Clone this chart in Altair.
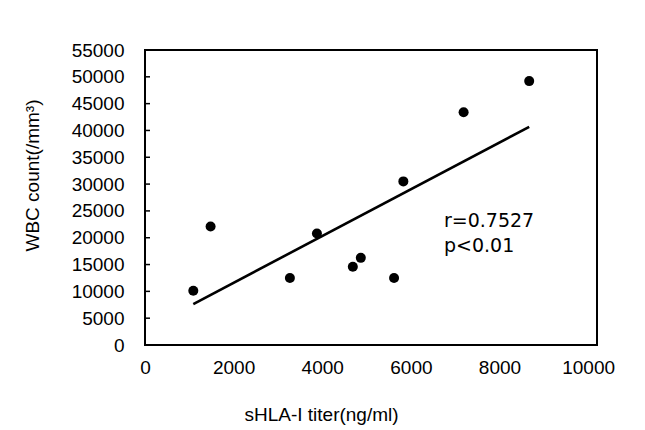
import altair as alt
import pandas as pd

# sHLA-I titer (ng/ml) and WBC count (/mm3)
titer = [1090, 1480, 3270, 3880, 4690, 4870, 5620, 5830, 7190, 8670]
wbc = [10100, 22100, 12500, 20800, 14600, 16250, 12500, 30500, 43400, 49200]

x_ticks = [0, 2000, 4000, 6000, 8000, 10000]
y_ticks = [0, 5000, 10000, 15000, 20000, 25000, 30000, 35000, 40000, 45000, 50000, 55000]
inner_ticks = [5000, 10000, 15000, 20000, 25000, 30000, 35000, 40000, 45000, 50000]
annot = ["r=0.7527", "p<0.01"]

pts = pd.DataFrame({"x": titer, "y": wbc})
tick_df = pd.DataFrame({"y": inner_ticks})

FONT = "Liberation Sans"

x_enc = alt.X(
    "x:Q",
    scale=alt.Scale(domain=[0, 10200], nice=False, zero=False),
    axis=alt.Axis(
        values=x_ticks, format="d", title="sHLA-I titer(ng/ml)", grid=False,
        domain=False, ticks=False, labelPadding=13, labelFlush=False,
        labelFont=FONT, labelFontSize=19, labelColor="black", titleFont=FONT,
        titleFontSize=19, titleFontWeight="normal", titleColor="black",
        titleX=176, titleY=69, titleBaseline="middle", titleAlign="center",
    ),
)
y_enc = alt.Y(
    "y:Q",
    scale=alt.Scale(domain=[0, 55000], nice=False),
    axis=alt.Axis(
        values=y_ticks, format="d", title="WBC count(/mm³)", grid=False,
        domain=False, ticks=False, labelPadding=21, labelFlush=False,
        labelFont=FONT, labelFontSize=19, labelColor="black",
        labelBaseline="middle", titleFont=FONT, titleFontSize=19,
        titleFontWeight="normal", titleColor="black", titleX=-113, titleY=125,
        titleAngle=-90, titleBaseline="middle", titleAlign="center",
    ),
)

points = alt.Chart(pts).mark_circle(size=100, color="black", opacity=1).encode(
    x=x_enc, y=y_enc
)

reg = (
    alt.Chart(pts)
    .transform_regression("x", "y")
    .mark_line(color="black", strokeWidth=2.6)
    .encode(x=x_enc, y=y_enc)
)

ticks = alt.Chart(tick_df).mark_rule(color="black", strokeWidth=1.5).encode(
    y=y_enc, x=alt.value(0), x2=alt.value(5)
)

t1 = alt.Chart(pd.DataFrame({"t": [annot[0]]})).mark_text(
    font="DejaVu Sans", fontSize=19, align="left", baseline="middle",
    color="black",
).encode(text="t:N", x=alt.value(299), y=alt.value(171))

t2 = alt.Chart(pd.DataFrame({"t": [annot[1]]})).mark_text(
    font="DejaVu Sans", fontSize=19, align="left", baseline="middle",
    color="black",
).encode(text="t:N", x=alt.value(299), y=alt.value(196))

chart = (
    alt.layer(ticks, reg, points, t1, t2)
    .properties(
        width=452,
        height=295,
        autosize=alt.AutoSizeParams(type="none"),
        padding={"left": 137, "top": 42, "right": 40, "bottom": 85},
        background="white",
    )
    .configure_view(stroke="black", strokeWidth=2)
)

chart.save("out.html", embed_options={"renderer": "svg", "actions": False})
